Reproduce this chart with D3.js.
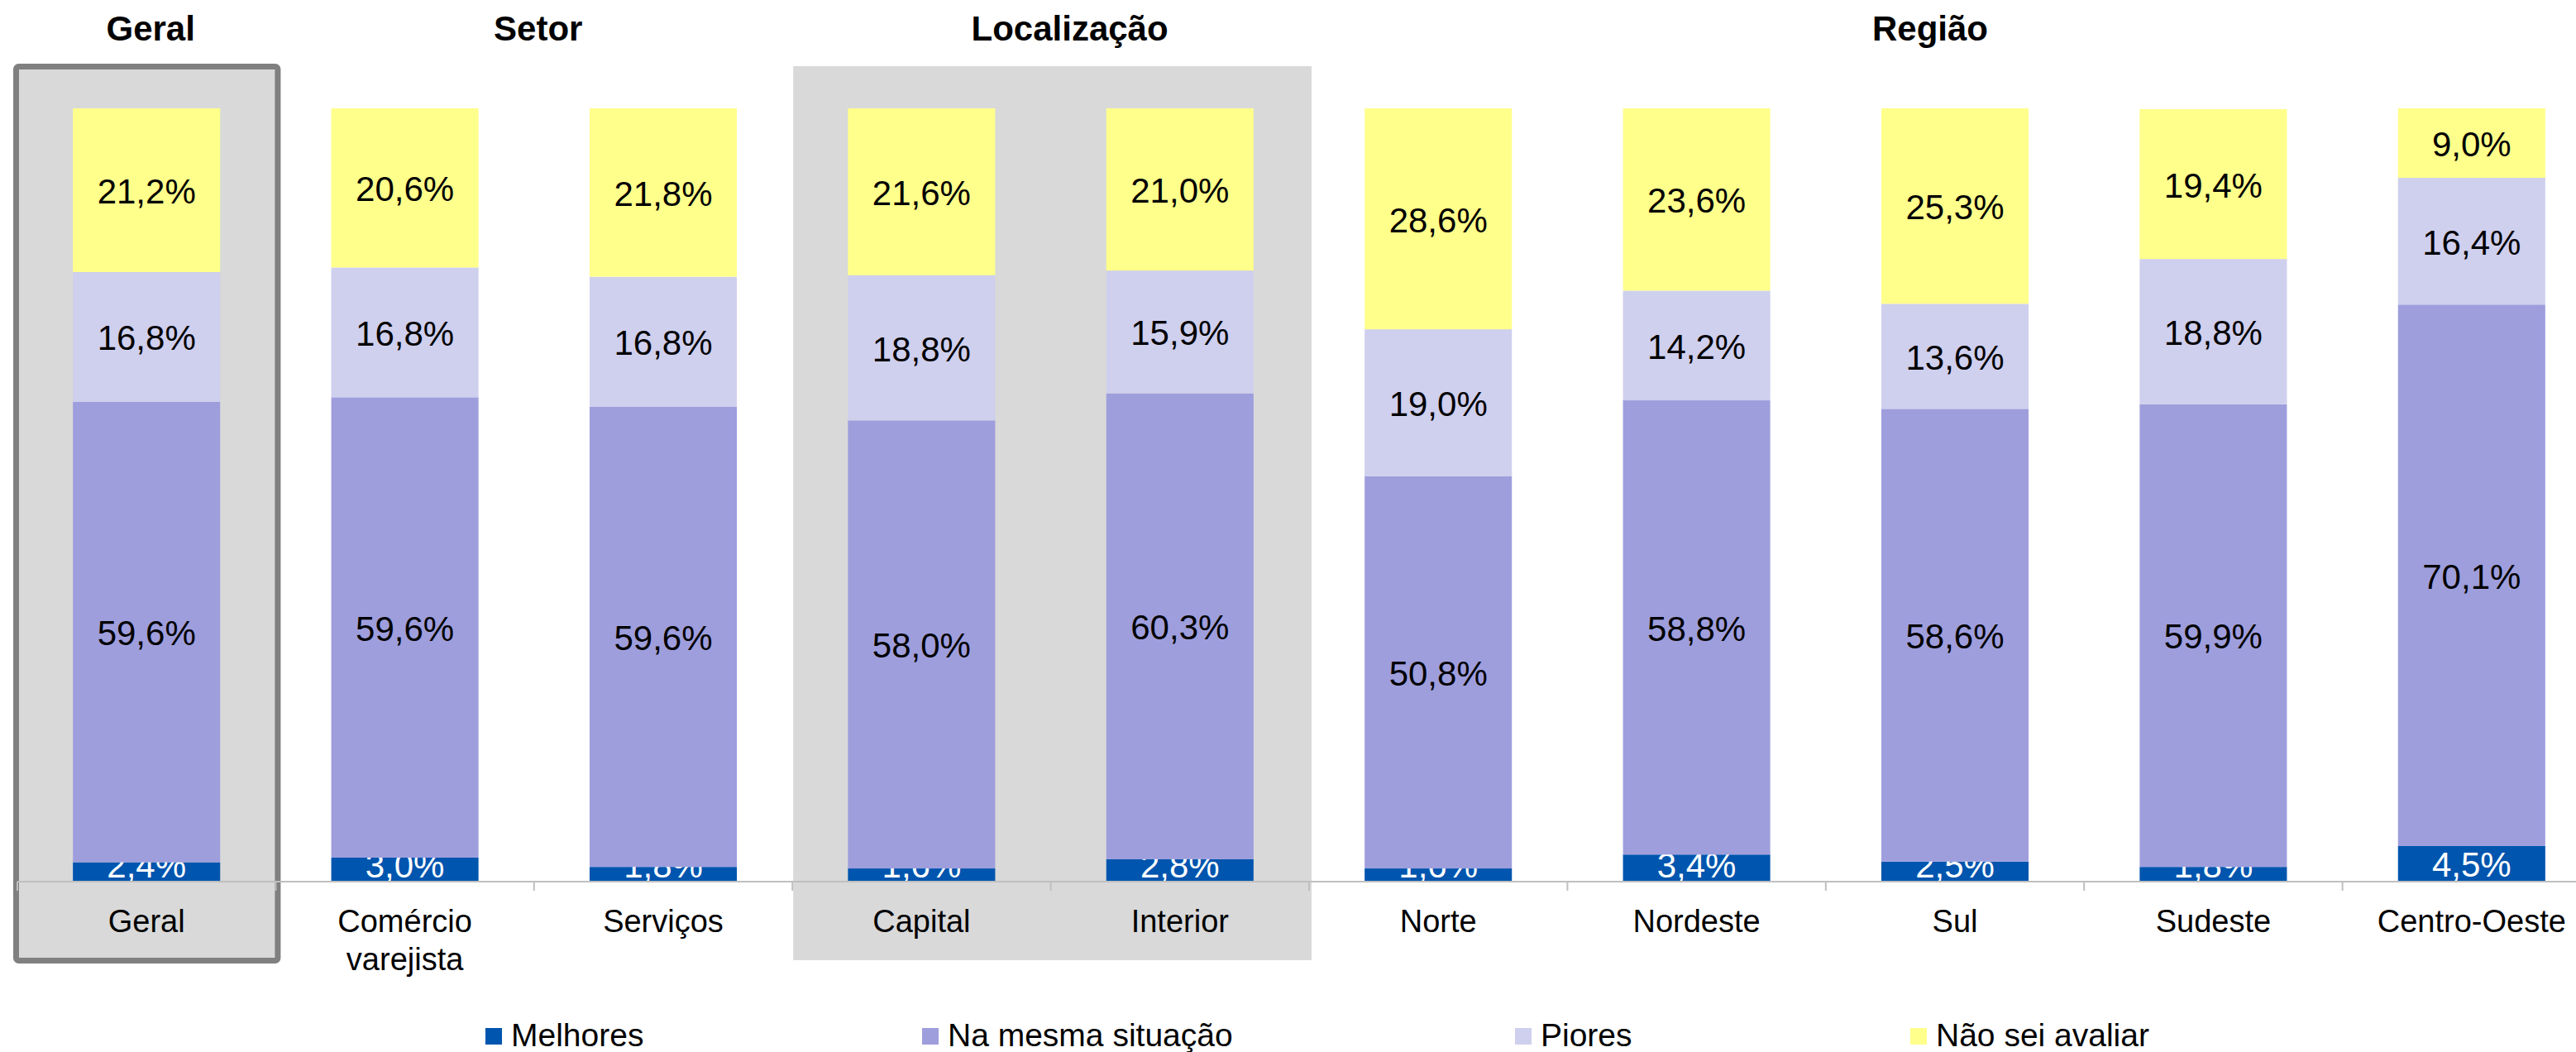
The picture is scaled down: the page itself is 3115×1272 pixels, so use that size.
<!DOCTYPE html>
<html>
<head>
<meta charset="utf-8">
<script src="https://cdn.jsdelivr.net/npm/d3@7"></script>
<style>
  body { margin: 0; background: #fff; }
  text { font-family: "Liberation Sans", Arial, sans-serif; }
</style>
</head>
<body>
<div id="chart"></div>
<script>
const categories = ["Geral", "Comércio varejista", "Serviços", "Capital", "Interior",
  "Norte", "Nordeste", "Sul", "Sudeste", "Centro-Oeste"]
const seriesNames = ["Melhores", "Na mesma situação", "Piores", "Não sei avaliar"]
const melhores = [2.4, 3.0, 1.8, 1.6, 2.8, 1.6, 3.4, 2.5, 1.8, 4.5]
const mesma    = [59.6, 59.6, 59.6, 58.0, 60.3, 50.8, 58.8, 58.6, 59.9, 70.1]
const piores   = [16.8, 16.8, 16.8, 18.8, 15.9, 19.0, 14.2, 13.6, 18.8, 16.4]
const naoSei   = [21.2, 20.6, 21.8, 21.6, 21.0, 28.6, 23.6, 25.3, 19.4, 9.0]
const groupNames = ["Geral", "Setor", "Localização", "Região"]
const groupFirst = ["Geral", "Comércio varejista", "Capital", "Norte"]
const groupLast  = ["Geral", "Serviços", "Interior", "Centro-Oeste"]

const colors = ["#0055ae", "#9e9edd", "#cfcfee", "#ffff8b"]

const width = 3115, height = 1272
const fmt = v => v.toFixed(1).replace(".", ",") + "%"

// build rows for d3.stack
const rows = categories.map((c, i) => ({
  cat: c,
  "Melhores": melhores[i],
  "Na mesma situação": mesma[i],
  "Piores": piores[i],
  "Não sei avaliar": naoSei[i]
}))
const layers = d3.stack().keys(seriesNames)(rows)

const x = d3.scaleBand().domain(categories).range([21, 3145]).padding(0)
const y = d3.scaleLinear().domain([0, 100]).range([1065, 131])
const barW = x.bandwidth() * 0.57

const svg = d3.select("#chart").append("svg")
  .attr("width", width)
  .attr("height", height)

// shaded group backgrounds
const shade = svg.append("g")
shade.append("rect")
  .attr("x", x("Capital") + 1)
  .attr("y", 80)
  .attr("width", x("Interior") + x.bandwidth() - x("Capital") + 2)
  .attr("height", 1081)
  .attr("fill", "#d9d9d9")
shade.append("rect")
  .attr("x", x("Geral") - 1.5)
  .attr("y", 80.5)
  .attr("width", x.bandwidth() + 4)
  .attr("height", 1081)
  .attr("rx", 3)
  .attr("fill", "#d9d9d9")
  .attr("stroke", "#808080")
  .attr("stroke-width", 7)

// group titles
const titleShift = { "Geral": 5, "Setor": 5, "Localização": 23, "Região": -30 }
svg.append("g").selectAll("text")
  .data(groupNames)
  .enter().append("text")
  .attr("x", (d, i) => (x(groupFirst[i]) + x(groupLast[i]) + x.bandwidth()) / 2 + titleShift[d])
  .attr("y", 49)
  .attr("text-anchor", "middle")
  .attr("font-weight", "bold")
  .attr("font-size", 42)
  .text(d => d)

// bars
const layer = svg.append("g").selectAll("g")
  .data(layers)
  .enter().append("g")
  .attr("fill", (d, i) => colors[i])

layer.selectAll("rect")
  .data(d => d)
  .enter().append("rect")
  .attr("x", d => x(d.data.cat) + (x.bandwidth() - barW) / 2)
  .attr("width", barW)
  .attr("y", d => y(d[1]))
  .attr("height", d => y(d[0]) - y(d[1]))

// axis
const axis = svg.append("g")
  .attr("transform", "translate(0," + y(0) + ")")
  .call(d3.axisBottom(x).tickSize(0).tickFormat(""))
axis.select(".domain").attr("stroke", "#bfbfbf").attr("stroke-width", 2)
  .attr("d", "M" + x.range()[0] + ",1H" + width)
axis.selectAll(".tick").remove()
axis.selectAll(".sep")
  .data(categories)
  .enter().append("line")
  .attr("class", "sep")
  .attr("x1", d => x(d)).attr("x2", d => x(d))
  .attr("y1", 1).attr("y2", 12)
  .attr("stroke", "#bfbfbf")
  .attr("stroke-width", 2)

// category labels
const catLabels = svg.append("g").selectAll("text")
  .data(categories)
  .enter().append("text")
  .attr("x", d => x(d) + x.bandwidth() / 2)
  .attr("y", 1127)
  .attr("text-anchor", "middle")
  .attr("font-size", 38)
catLabels.each(function(d) {
  const parts = d.split(" ")
  const t = d3.select(this)
  parts.forEach((p, k) => {
    t.append("tspan")
      .attr("x", x(d) + x.bandwidth() / 2)
      .attr("dy", k === 0 ? 0 : 46)
      .text(p)
  })
})

// value labels
layer.selectAll("text")
  .data(d => d.map(s => Object.assign({ key: d.key }, s)))
  .enter().append("text")
  .attr("x", d => x(d.data.cat) + x.bandwidth() / 2)
  .attr("y", d => {
    const mid = (y(d[0]) + y(d[1])) / 2
    return Math.min(mid, y(0) - 20) + 16
  })
  .attr("text-anchor", "middle")
  .attr("font-size", 42)
  .attr("fill", d => d.key === "Melhores" ? "#fff" : "#000")
  .text(d => fmt(d.data[d.key]))

// legend
const legendX = [587, 1115, 1832, 2310]
const legend = svg.append("g").selectAll("g")
  .data(seriesNames)
  .enter().append("g")
  .attr("transform", (d, i) => "translate(" + legendX[i] + ",1243)")
legend.append("rect")
  .attr("width", 20)
  .attr("height", 20)
  .attr("fill", (d, i) => colors[i])
legend.append("text")
  .attr("x", 31)
  .attr("y", 22)
  .attr("font-size", 39)
  .text(d => d)
</script>
</body>
</html>
